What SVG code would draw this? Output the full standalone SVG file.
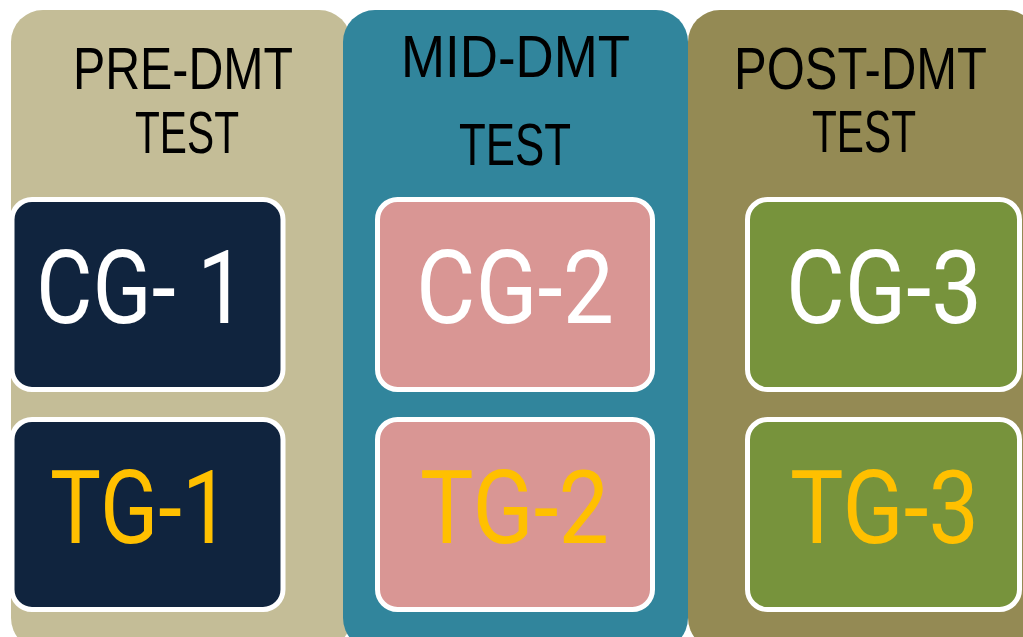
<svg xmlns="http://www.w3.org/2000/svg" width="1023" height="637" viewBox="0 0 1023 637">
  <style>
    .panel { stroke: none; }
    .box { stroke: #FFFFFF; stroke-width: 5; }
    .head { font-family: "Liberation Sans", Arial, sans-serif; font-size: 60px; fill: #000000; text-anchor: start; }
    .big { font-family: Roboto, "Liberation Sans", sans-serif; font-size: 102px; text-anchor: start; }
    .cg { fill: #FFFFFF; }
    .tg { fill: #FFC000; }
  </style>
  <rect width="1023" height="637" fill="#FFFFFF"/>

  <!-- Stage panels -->
  <g id="stage-pre">
    <rect class="panel" x="11" y="10" width="340" height="640" rx="32" fill="#C4BD97"/>
    <text class="head" x="73" y="89" textLength="220" lengthAdjust="spacingAndGlyphs">PRE-DMT</text>
    <text class="head" x="135" y="153" textLength="104" lengthAdjust="spacingAndGlyphs">TEST</text>
  </g>
  <g id="stage-mid">
    <rect class="panel" x="343" y="10" width="345" height="640" rx="32" fill="#31859C"/>
    <text class="head" x="401" y="77" textLength="229" lengthAdjust="spacingAndGlyphs">MID-DMT</text>
    <text class="head" x="459" y="165" textLength="112" lengthAdjust="spacingAndGlyphs">TEST</text>
  </g>
  <g id="stage-post">
    <rect class="panel" x="688" y="10" width="350" height="640" rx="32" fill="#948A54"/>
    <text class="head" x="734" y="89" textLength="253" lengthAdjust="spacingAndGlyphs">POST-DMT</text>
    <text class="head" x="812" y="152" textLength="104" lengthAdjust="spacingAndGlyphs">TEST</text>
  </g>

  <!-- Group boxes -->
  <g id="cg-1">
    <rect class="box" x="12" y="199.5" width="271" height="190" rx="20" fill="#10243E"/>
    <text class="big cg" x="36" y="323" textLength="210" lengthAdjust="spacingAndGlyphs">CG- 1</text>
  </g>
  <g id="tg-1">
    <rect class="box" x="12" y="419.5" width="271" height="190" rx="20" fill="#10243E"/>
    <text class="big tg" x="50" y="543" textLength="180" lengthAdjust="spacingAndGlyphs">TG-1</text>
  </g>
  <g id="cg-2">
    <rect class="box" x="377.5" y="199.5" width="275" height="190" rx="20" fill="#D99694"/>
    <text class="big cg" x="416" y="323" textLength="198" lengthAdjust="spacingAndGlyphs">CG-2</text>
  </g>
  <g id="tg-2">
    <rect class="box" x="377.5" y="419.5" width="275" height="190" rx="20" fill="#D99694"/>
    <text class="big tg" x="420" y="543" textLength="189" lengthAdjust="spacingAndGlyphs">TG-2</text>
  </g>
  <g id="cg-3">
    <rect class="box" x="747.5" y="199.5" width="272" height="190" rx="20" fill="#77933C"/>
    <text class="big cg" x="786" y="323" textLength="196" lengthAdjust="spacingAndGlyphs">CG-3</text>
  </g>
  <g id="tg-3">
    <rect class="box" x="747.5" y="419.5" width="272" height="190" rx="20" fill="#77933C"/>
    <text class="big tg" x="790" y="543" textLength="189" lengthAdjust="spacingAndGlyphs">TG-3</text>
  </g>

  <!-- No connectors in this layout -->
  <g id="connectors"/>
</svg>
